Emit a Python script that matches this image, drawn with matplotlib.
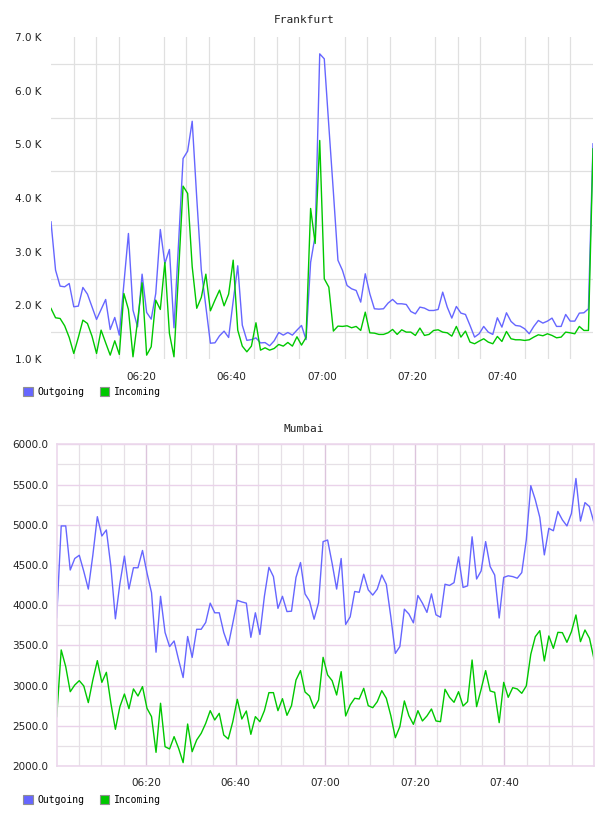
import matplotlib
matplotlib.use("Agg")
import matplotlib.pyplot as plt
import matplotlib.dates as mdates
from matplotlib.patches import Patch
import numpy as np
import pandas as pd

# one sample per ~minute, 06:00 -> 08:00
times = pd.date_range("2024-01-01 06:00", "2024-01-01 08:00", periods=120)

frankfurt_out = [
    3556, 2656, 2358, 2345, 2407, 1973, 1985, 2333, 2209, 1973,
    1737, 1923, 2109, 1550, 1774, 1445, 2400, 3339, 1911, 1600,
    2581, 1867, 1743, 2221, 3413, 2780, 3041, 1582, 3150, 4736,
    4873, 5430, 4000, 2659, 1976, 1294, 1302, 1432, 1519, 1401,
    2080, 2737, 1631, 1348, 1361, 1393, 1300, 1306, 1246, 1339,
    1494, 1445, 1494, 1445, 1538, 1625, 1361, 2800, 3300, 6686,
    6593, 5340, 4110, 2840, 2650, 2370, 2308, 2277, 2060, 2588,
    2215, 1936, 1929, 1936, 2041, 2110, 2029, 2029, 2016, 1886,
    1842, 1967, 1948, 1904, 1904, 1923, 2246, 1967, 1762, 1979,
    1855, 1830, 1625, 1408, 1470, 1607, 1501, 1458, 1768, 1594,
    1861, 1700, 1625, 1613, 1563, 1470, 1607, 1718, 1669, 1706,
    1762, 1607, 1607, 1830, 1706, 1706, 1855, 1861, 1936, 5010,
]
frankfurt_in = [
    1942, 1768, 1755, 1619, 1401, 1103, 1401, 1724, 1662, 1426,
    1103, 1538, 1302, 1072, 1339, 1085, 2221, 1923, 1041, 1700,
    2420, 1072, 1228, 2097, 1923, 2799, 1476, 1041, 2600, 4221,
    4085, 2720, 1945, 2147, 2581, 1898, 2097, 2283, 1991, 2209,
    2842, 1538, 1240, 1134, 1240, 1675, 1165, 1209, 1165, 1196,
    1271, 1240, 1308, 1240, 1414, 1259, 1401, 3805, 3153, 5072,
    2494, 2339, 1520, 1613, 1607, 1619, 1582, 1607, 1532, 1873,
    1488, 1482, 1458, 1458, 1488, 1551, 1458, 1544, 1501, 1501,
    1439, 1576, 1439, 1458, 1532, 1544, 1501, 1488, 1426, 1607,
    1408, 1520, 1315, 1284, 1333, 1377, 1315, 1284, 1420, 1327,
    1513, 1377, 1358, 1358, 1346, 1358, 1408, 1451, 1433, 1470,
    1439, 1395, 1408, 1501, 1488, 1470, 1607, 1532, 1532, 4916,
]
mumbai_out = [
    3845, 4985, 4985, 4437, 4580, 4620, 4420, 4200, 4620, 5100,
    4860, 4935, 4480, 3830, 4270, 4610, 4200, 4465, 4465, 4680,
    4400, 4155, 3415, 4110, 3660, 3485, 3555, 3320, 3100, 3610,
    3350, 3700, 3700, 3785, 4025, 3905, 3905, 3660, 3500, 3775,
    4060, 4040, 4025, 3600, 3905, 3635, 4110, 4470, 4355, 3960,
    4110, 3920, 3925, 4345, 4530, 4140, 4050, 3825, 4030, 4790,
    4810, 4520, 4200, 4580, 3760, 3855, 4170, 4160, 4385, 4190,
    4125, 4200, 4375, 4260, 3855, 3400, 3485, 3950, 3890, 3780,
    4120, 4025, 3910, 4140, 3880, 3850, 4260, 4245, 4280, 4600,
    4220, 4240, 4850, 4325, 4425, 4790, 4480, 4375, 3840, 4345,
    4365, 4355, 4335, 4405, 4810, 5485, 5310, 5090, 4625, 4955,
    4925, 5165, 5060, 4985, 5140, 5575, 5045, 5275, 5225, 5025,
]
mumbai_in = [
    2614, 3443, 3235, 2924, 3007, 3061, 2995, 2788, 3069, 3310,
    3040, 3165, 2780, 2456, 2738, 2895, 2713, 2958, 2870, 2987,
    2717, 2614, 2170, 2780, 2240, 2212, 2365, 2220, 2042, 2522,
    2178, 2323, 2406, 2530, 2688, 2572, 2655, 2385, 2336, 2551,
    2829, 2584, 2684, 2394, 2614, 2551, 2688, 2912, 2912, 2688,
    2837, 2630, 2750, 3069, 3186, 2920, 2870, 2717, 2821, 3351,
    3132, 3061, 2883, 3173, 2622, 2759, 2842, 2833, 2966, 2750,
    2725, 2800, 2937, 2842, 2626, 2352, 2489, 2809, 2626, 2518,
    2688, 2560, 2622, 2709, 2560, 2551, 2954, 2854, 2792, 2924,
    2746, 2800, 3318, 2738, 2954, 3186, 2933, 2916, 2539, 3040,
    2854, 2974, 2958, 2904, 2995, 3389, 3608, 3683, 3306, 3617,
    3463, 3662, 3658, 3538, 3670, 3878, 3546, 3691, 3588, 3331,
]

OUT_COLOR = "#6666ff"
IN_COLOR = "#00c800"
W, H = 608, 816

fig = plt.figure(figsize=(W / 100, H / 100), dpi=100)

t0, t1 = times[0], times[-1]
label_ticks = pd.date_range("2024-01-01 06:20", "2024-01-01 07:40", freq="20min")
minor_ticks = pd.date_range("2024-01-01 06:05", "2024-01-01 07:55", freq="5min")


def px_axes(left, top, right, bottom):
    return fig.add_axes([left / W, 1 - bottom / H, (right - left) / W, (bottom - top) / H])


def add_legend(y):
    handles = [Patch(facecolor=OUT_COLOR, edgecolor="#909090", lw=0.8),
               Patch(facecolor=IN_COLOR, edgecolor="#909090", lw=0.8)]
    fig.legend(handles, ["Outgoing", "Incoming"], loc="center left",
               bbox_to_anchor=(23 / W, 1 - y / H), ncol=2, frameon=False,
               prop={"family": "DejaVu Sans Mono", "size": 7},
               handlelength=1.0, handleheight=1.0, handletextpad=0.45,
               columnspacing=1.6, borderpad=0, borderaxespad=0)


# ---- Frankfurt ----
ax1 = px_axes(51, 37, 593, 359)
ax1.plot(times, frankfurt_out, color=OUT_COLOR, lw=1.0)
ax1.plot(times, frankfurt_in, color=IN_COLOR, lw=1.0)
ax1.set_xlim(t0, t1)
ax1.set_ylim(1000, 7000)
ax1.set_yticks(np.arange(1000, 7001, 1000))
ax1.set_yticklabels([f"{v / 1000:.1f} K" for v in np.arange(1000, 7001, 1000)])
ax1.set_yticks(np.arange(1500, 7000, 1000), minor=True)
ax1.set_xticks(label_ticks)
ax1.set_xticks(minor_ticks, minor=True)
ax1.xaxis.set_major_formatter(mdates.DateFormatter("%H:%M"))
ax1.grid(False)
ax1.grid(which="minor", color="#e0e0e0", lw=0.9)
for s in ax1.spines.values():
    s.set_visible(False)
ax1.tick_params(which="both", length=0, labelsize=7.5, colors="#222222")
ax1.tick_params(axis="y", pad=7)
ax1.tick_params(axis="x", pad=9)
ax1.set_axisbelow(True)
fig.text(304 / W, 1 - 20 / H, "Frankfurt", ha="center", va="center",
         family="DejaVu Sans Mono", fontsize=8, color="#222222")
add_legend(392)

# ---- Mumbai ----
ax2 = px_axes(56.7, 444.3, 594, 766)
ax2.plot(times, mumbai_out, color=OUT_COLOR, lw=1.0)
ax2.plot(times, mumbai_in, color=IN_COLOR, lw=1.0)
ax2.set_xlim(t0, t1)
ax2.set_ylim(2000, 6000)
ax2.set_yticks(np.arange(2000, 6001, 500))
ax2.yaxis.set_major_formatter(plt.FuncFormatter(lambda v, p: f"{v:.1f}"))
ax2.set_yticks(np.arange(2250, 6000, 500), minor=True)
ax2.set_xticks(label_ticks)
ax2.set_xticks(minor_ticks, minor=True)
ax2.xaxis.set_major_formatter(mdates.DateFormatter("%H:%M"))
ax2.grid(which="minor", color="#e6e0e6", lw=0.9)
ax2.grid(which="major", axis="y", color="#ead2ea", lw=1.0)
ax2.grid(which="major", axis="x", color="#dcc4dc", lw=1.0)
for s in ax2.spines.values():
    s.set_color("#ecd8ec")
    s.set_linewidth(1.2)
ax2.tick_params(which="both", length=0, labelsize=7.5, colors="#222222")
ax2.tick_params(axis="y", pad=6)
ax2.tick_params(axis="x", pad=9)
ax2.set_axisbelow(True)
fig.text(304 / W, 1 - 429 / H, "Mumbai", ha="center", va="center",
         family="DejaVu Sans Mono", fontsize=8, color="#222222")
add_legend(800)

fig.savefig("out.png", dpi=100)
